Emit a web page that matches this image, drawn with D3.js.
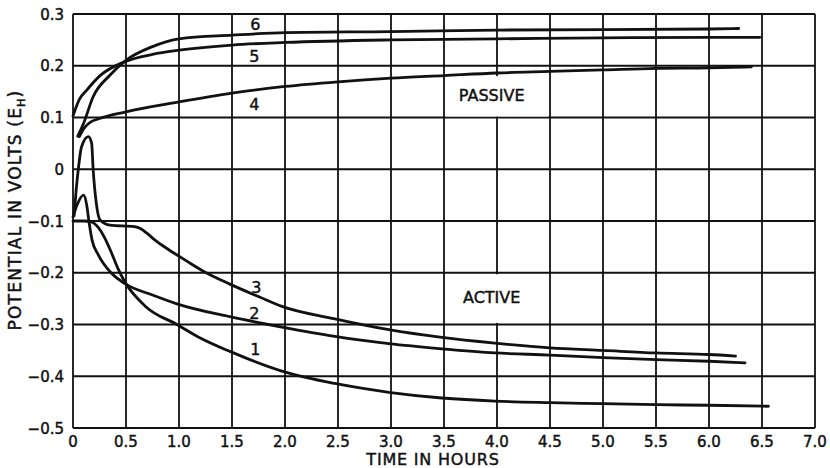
<!DOCTYPE html>
<html lang="en">
<head>
<meta charset="utf-8">
<title>Potential vs time</title>
<script src="https://d3js.org/d3.v7.min.js"></script>
<style>
  body { margin: 0; background: #fff; }
  text { font-family: "DejaVu Sans", sans-serif; fill: #111; stroke: #111; stroke-width: 0.45; }
</style>
</head>
<body>
<svg width="830" height="468"></svg>
<script>
// tick labels
const xTicks = [0, 0.5, 1, 1.5, 2, 2.5, 3, 3.5, 4, 4.5, 5, 5.5, 6, 6.5, 7];
const xTickLabels = ["0", "0.5", "1.0", "1.5", "2.0", "2.5", "3.0", "3.5", "4.0", "4.5", "5.0", "5.5", "6.0", "6.5", "7.0"];
const yTicks = [0.3, 0.2, 0.1, 0, -0.1, -0.2, -0.3, -0.4, -0.5];
const yTickLabels = ["0.3", "0.2", "0.1", "0", "\u22120.1", "\u22120.2", "\u22120.3", "\u22120.4", "\u22120.5"];

// curves: [time in hours, potential in volts]
const curve1 = [[0, -0.1], [0.1, -0.1], [0.18, -0.102], [0.24, -0.113], [0.3, -0.133], [0.36, -0.16], [0.42, -0.19], [0.49, -0.218],
  [0.69, -0.266], [0.98, -0.3], [1.2, -0.326], [1.48, -0.352], [1.97, -0.39], [2.47, -0.414], [2.98, -0.431],
  [3.48, -0.442], [3.98, -0.448], [4.5, -0.451], [5.0, -0.453], [5.5, -0.455], [6.0, -0.456], [6.56, -0.458]];
const curve2 = [[0, -0.092], [0.04, -0.068], [0.1, -0.05], [0.13, -0.07], [0.15, -0.1], [0.18, -0.137], [0.24, -0.166],
  [0.35, -0.198], [0.49, -0.221], [0.75, -0.243], [0.98, -0.26], [1.48, -0.285], [1.97, -0.305], [2.47, -0.323],
  [2.98, -0.337], [3.48, -0.347], [3.98, -0.355], [4.5, -0.359], [5.0, -0.364], [5.5, -0.368], [6.0, -0.371], [6.34, -0.374]];
const curve3 = [[0.01, -0.09], [0.03, -0.04], [0.05, 0.0], [0.08, 0.043], [0.145, 0.063], [0.176, 0.05], [0.19, 0.0],
  [0.22, -0.066], [0.255, -0.098], [0.35, -0.108], [0.58, -0.111], [0.64, -0.115], [0.7, -0.124], [0.78, -0.138],
  [0.9, -0.155], [1.0, -0.168], [1.1, -0.181], [1.23, -0.197], [1.48, -0.222], [1.76, -0.247], [1.97, -0.265],
  [2.47, -0.289], [2.98, -0.31], [3.48, -0.325], [3.98, -0.336], [4.5, -0.345], [5.0, -0.35], [5.5, -0.355],
  [6.0, -0.358], [6.25, -0.361]];
const curve4 = [[0.06, 0.063], [0.1, 0.078], [0.15, 0.089], [0.25, 0.098], [0.5, 0.111], [1.0, 0.13], [1.5, 0.147],
  [2.0, 0.16], [2.5, 0.169], [3.0, 0.176], [3.5, 0.181], [4.0, 0.186], [4.5, 0.189], [5.0, 0.192], [5.5, 0.195],
  [6.0, 0.196], [6.4, 0.198]];
const curve5 = [[0, 0.103], [0.06, 0.135], [0.13, 0.153], [0.25, 0.18], [0.49, 0.208], [0.75, 0.222], [1.0, 0.23],
  [1.5, 0.24], [2.0, 0.245], [3.0, 0.25], [4.0, 0.252], [5.0, 0.254], [6.0, 0.255], [6.48, 0.255]];
const curve6 = [[0.045, 0.064], [0.1, 0.089], [0.19, 0.14], [0.35, 0.182], [0.49, 0.209], [0.75, 0.237], [1.0, 0.252],
  [1.5, 0.259], [2.0, 0.264], [3.0, 0.266], [4.0, 0.269], [5.0, 0.27], [6.0, 0.271], [6.28, 0.272]];

const curveLabels = ["1", "2", "3", "4", "5", "6"];
const curveLabelPos = [[1.72, -0.347], [1.71, -0.278], [1.73, -0.227], [1.71, 0.127], [1.71, 0.219], [1.72, 0.281]];

const svg = d3.select("svg");
const x = d3.scaleLinear().domain([0, 7]).range([73, 815]);
const y = d3.scaleLinear().domain([-0.5, 0.3]).range([428, 14]);

// grid
const grid = svg.append("g").attr("stroke", "#111").attr("stroke-width", 1.8);
grid.selectAll("line.v").data(xTicks).enter().append("line")
  .attr("x1", d => x(d)).attr("x2", d => x(d))
  .attr("y1", y(0.3)).attr("y2", y(-0.5));
grid.selectAll("line.h").data(yTicks).enter().append("line")
  .attr("y1", d => y(d)).attr("y2", d => y(d))
  .attr("x1", x(0)).attr("x2", x(7));

// white boxes behind the region labels
svg.append("rect").attr("x", x(3.52)).attr("y", y(0.18))
  .attr("width", x(4.48) - x(3.52)).attr("height", y(0.102) - y(0.18)).attr("fill", "#fff");
svg.append("rect").attr("x", x(3.52)).attr("y", y(-0.203))
  .attr("width", x(4.48) - x(3.52)).attr("height", y(-0.297) - y(-0.203)).attr("fill", "#fff");

// axes labels
svg.selectAll("text.xt").data(xTicks).enter().append("text")
  .attr("x", d => x(d)).attr("y", 447).attr("text-anchor", "middle")
  .attr("font-size", 15).text((d, i) => xTickLabels[i]);
svg.selectAll("text.yt").data(yTicks).enter().append("text")
  .attr("x", 64).attr("y", d => y(d) + 5.5).attr("text-anchor", "end")
  .attr("font-size", 15).text((d, i) => yTickLabels[i]);

svg.append("text").attr("x", 433).attr("y", 465).attr("text-anchor", "middle")
  .attr("font-size", 16).attr("letter-spacing", 0.8).text("TIME IN HOURS");

const yt = svg.append("text").attr("transform", "translate(21,210) rotate(-90)")
  .attr("text-anchor", "middle").attr("font-size", 17).attr("letter-spacing", 1.2);
yt.append("tspan").text("POTENTIAL IN VOLTS (E");
yt.append("tspan").attr("font-size", 11).attr("dy", 4).text("H");
yt.append("tspan").attr("dy", -4).text(")");

// curves
const line = d3.line().x(d => x(d[0])).y(d => y(d[1])).curve(d3.curveMonotoneX);
svg.selectAll("path.c").data([curve1, curve2, curve3, curve4, curve5, curve6]).enter().append("path")
  .attr("d", line).attr("fill", "none").attr("stroke", "#111")
  .attr("stroke-width", 2.8).attr("stroke-linejoin", "round").attr("stroke-linecap", "round");

svg.selectAll("text.cl").data(curveLabels).enter().append("text")
  .attr("x", (d, i) => x(curveLabelPos[i][0])).attr("y", (d, i) => y(curveLabelPos[i][1]) + 6)
  .attr("text-anchor", "middle").attr("font-size", 16).text(d => d);

svg.append("text").attr("x", x(3.95)).attr("y", y(0.143) + 6).attr("text-anchor", "middle")
  .attr("font-size", 16).text("PASSIVE");
svg.append("text").attr("x", x(3.95)).attr("y", y(-0.247) + 6).attr("text-anchor", "middle")
  .attr("font-size", 16).text("ACTIVE");
</script>
</body>
</html>
